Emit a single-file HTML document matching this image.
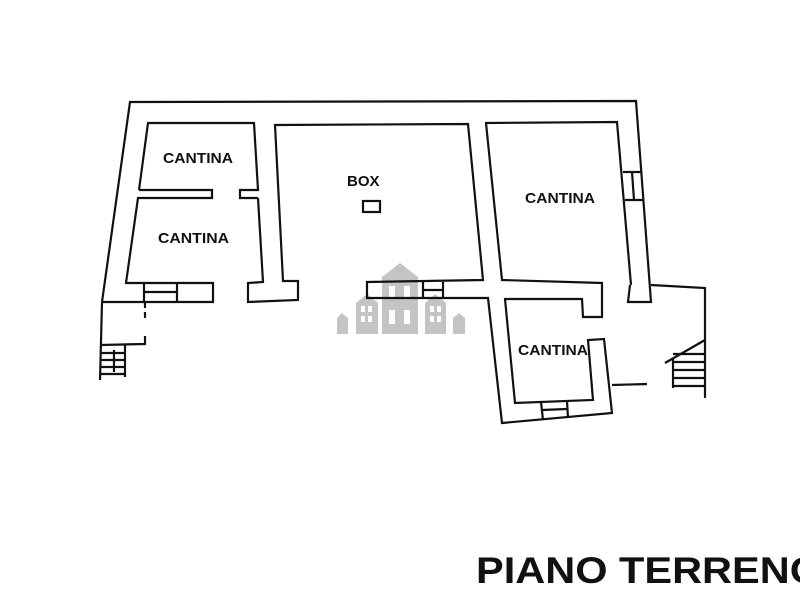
<!DOCTYPE html>
<html><head><style>html,body{margin:0;padding:0;background:#fff;overflow:hidden}</style></head>
<body>
<svg width="800" height="600" viewBox="0 0 800 600" xmlns="http://www.w3.org/2000/svg">
<rect width="800" height="600" fill="#fff"/>
<g fill="#c4c4c4">
<polygon points="382,277 400,263 418,277 418,334 382,334"/>
<polygon points="356,303 367,294 378,303 378,334 356,334"/>
<polygon points="425,303 435,294 446,303 446,334 425,334"/>
<polygon points="337,318 342,313 348,318 348,334 337,334"/>
<polygon points="453,318 459,313 465,318 465,334 453,334"/>
<g fill="#fff"><rect x="389" y="286" width="6" height="12"/><rect x="404" y="286" width="6" height="12"/><rect x="389" y="310" width="6" height="14"/><rect x="404" y="310" width="6" height="14"/>
<rect x="361" y="306" width="4" height="6"/><rect x="368" y="306" width="4" height="6"/><rect x="361" y="316" width="4" height="6"/><rect x="368" y="316" width="4" height="6"/>
<rect x="430" y="306" width="4" height="6"/><rect x="437" y="306" width="4" height="6"/><rect x="430" y="316" width="4" height="6"/><rect x="437" y="316" width="4" height="6"/></g>
</g>
<g fill="none" stroke="#111" stroke-width="2.2" stroke-linejoin="miter">
<polyline points="102,302 130,102 636,101 651,302 628,302 630,285"/>
<line x1="102" y1="302" x2="100" y2="380"/>
<polyline points="139,190 148,123 254,123 258,190 240,190 240,198 258,198"/>
<polyline points="139,190 212,190 212,198 138,198 126,283 213,283 213,302 102,302"/>
<line x1="144" y1="283" x2="144" y2="302"/><line x1="177" y1="283" x2="177" y2="302"/><line x1="144" y1="292" x2="177" y2="292"/>
<polyline points="258,198 263,282 248,283 248,302 298,300 298,281 283,281 275,125 468,124 483,280 367,282 367,298 488,298 502,423 612,413 604,339 588,340 593,400 515,403 505,299 582,299 583,317 602,317 602,283 502,280 486,123 617,122 631,285"/>
<line x1="423" y1="282" x2="423" y2="298"/><line x1="443" y1="282" x2="443" y2="298"/><line x1="423" y1="290" x2="443" y2="290"/>
<line x1="541" y1="402" x2="543" y2="420"/><line x1="567" y1="401" x2="568" y2="418"/><line x1="542" y1="410" x2="567" y2="409"/>
<line x1="623" y1="172" x2="641" y2="172"/><line x1="625" y1="200" x2="643" y2="200"/><line x1="632" y1="172" x2="634" y2="200"/>
<rect x="363" y="201" width="17" height="11"/>
<polyline points="651,285 705,288 705,398"/>
<line x1="612" y1="385" x2="647" y2="384"/>
<line x1="665" y1="363" x2="705" y2="340"/>
<line x1="673" y1="358" x2="673" y2="388"/>
<line x1="673" y1="354" x2="705" y2="354"/><line x1="673" y1="362" x2="705" y2="362"/><line x1="673" y1="370" x2="705" y2="370"/><line x1="673" y1="378" x2="705" y2="378"/><line x1="673" y1="386" x2="705" y2="386"/>
<polyline points="100,345 145,344 145,336"/>
<line x1="145" y1="302" x2="145" y2="320" stroke-dasharray="6 4"/>
<line x1="125" y1="345" x2="125" y2="377"/>
<line x1="100" y1="353" x2="125" y2="353"/><line x1="100" y1="360" x2="125" y2="360"/><line x1="100" y1="367" x2="125" y2="367"/><line x1="100" y1="374" x2="125" y2="374"/>
<line x1="114" y1="350" x2="114" y2="372"/>
</g>
<g font-family="Liberation Sans, sans-serif" font-weight="bold" fill="#111" font-size="15">
<text x="163" y="163" textLength="70" lengthAdjust="spacingAndGlyphs">CANTINA</text>
<text x="158" y="243" textLength="71" lengthAdjust="spacingAndGlyphs">CANTINA</text>
<text x="347" y="186">BOX</text>
<text x="525" y="203" textLength="70" lengthAdjust="spacingAndGlyphs">CANTINA</text>
<text x="518" y="355" textLength="70" lengthAdjust="spacingAndGlyphs">CANTINA</text>
<text x="476" y="583" font-size="37" textLength="346" lengthAdjust="spacingAndGlyphs">PIANO TERRENO</text>
</g>
</svg>
</body></html>
